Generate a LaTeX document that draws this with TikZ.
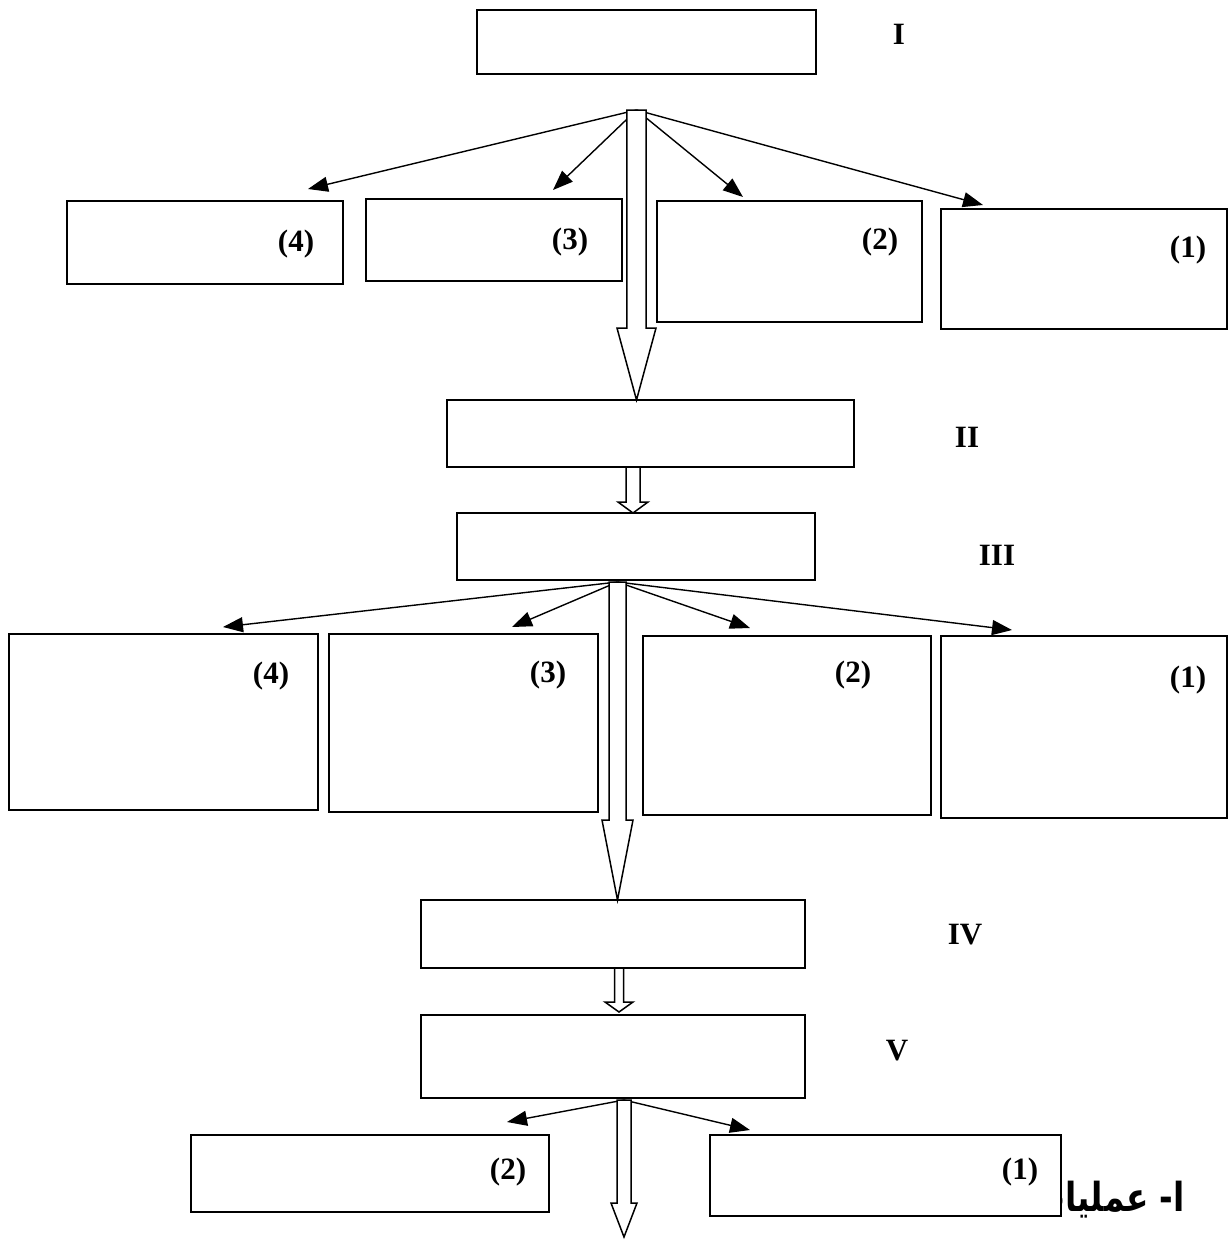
\documentclass[tikz,border=0pt]{standalone}
\usepackage{fontspec}
\setmainfont{Liberation Serif}
\newfontfamily\arabicfont[Script=Arabic]{DejaVu Sans}
\TeXXeTstate=1
\usepackage{tikz}
\usetikzlibrary{arrows.meta, fit, calc}
\tikzstyle{box} = [rectangle, draw, line width=1.5pt, fill=white, inner sep=0pt, outer sep=0pt]
\tikzstyle{lbl} = [font=\fontsize{31}{32}\selectfont\bfseries, inner sep=0pt]
\tikzstyle{arrow} = [line width=1.4pt, -{Triangle[length=20pt,width=15pt]}]
\tikzstyle{hollow} = [draw, line width=1.5pt, fill=white]
% hollow down arrow: top, tip, half shaft, half head, head length
\newcommand{\hollowdown}[5]{%
  \path[hollow] let \p1=(#1), \p2=(#2) in
    (\x1-#3pt,\y1) -- (\x1+#3pt,\y1) -- (\x1+#3pt,\y2+#5pt) -- (\x1+#4pt,\y2+#5pt)
    -- (\x1,\y2) -- (\x1-#4pt,\y2+#5pt) -- (\x1-#3pt,\y2+#5pt) -- cycle;}

\begin{document}
\begin{tikzpicture}[x=1pt, y=-1pt]
    \useasboundingbox (0,0) rectangle (1229,1240);

    % Title text, partly hidden by the box (1) below
    \node[anchor=base east, inner sep=0pt, xscale=0.82, transform shape, font=\arabicfont\fontsize{40}{42}\selectfont\bfseries] (title) at (1185,1211) {\beginR ا- عمليات\endR};

    % Nodes
    \node (boxI) [box, fit={(477,10) (816,74)}] {};
    \node (lI) [lbl] at (899,34) {I};
    \node (a4) [box, fit={(67,201) (343,284)}] {};
    \node (a3) [box, fit={(366,199) (622,281)}] {};
    \node (a2) [box, fit={(657,201) (922,322)}] {};
    \node (a1) [box, fit={(941,209) (1227,329)}] {};
    \node (la4) [lbl] at (296,244) {(4)};
    \node (la3) [lbl] at (570,242) {(3)};
    \node (la2) [lbl] at (880,242) {(2)};
    \node (la1) [lbl] at (1188,250) {(1)};

    \node (boxII) [box, fit={(447,400) (854,467)}] {};
    \node (lII) [lbl] at (967,437) {II};
    \node (boxIII) [box, fit={(457,513) (815,580)}] {};
    \node (lIII) [lbl] at (997,555) {III};

    \node (b4) [box, fit={(9,634) (318,810)}] {};
    \node (b3) [box, fit={(329,634) (598,812)}] {};
    \node (b2) [box, fit={(643,636) (931,815)}] {};
    \node (b1) [box, fit={(941,636) (1227,818)}] {};
    \node (lb4) [lbl] at (271,676) {(4)};
    \node (lb3) [lbl] at (548,675) {(3)};
    \node (lb2) [lbl] at (853,675) {(2)};
    \node (lb1) [lbl] at (1188,680) {(1)};

    \node (boxIV) [box, fit={(421,900) (805,968)}] {};
    \node (lIV) [lbl] at (965,935) {IV};
    \node (boxV) [box, fit={(421,1015) (805,1098)}] {};
    \node (lV) [lbl] at (897,1051) {V};

    \node (c2) [box, fit={(191,1135) (549,1212)}] {};
    \node (c1) [box, fit={(710,1135) (1061,1216)}] {};
    \node (lc2) [lbl] at (508,1172) {(2)};
    \node (lc1) [lbl] at (1020,1172) {(1)};

    % Hubs and arrow ends
    \coordinate (hubI) at (636.5,110);
    \coordinate (hubIII) at (617.5,582);
    \coordinate (hubV) at (624,1100);
    \coordinate (ea4) at (308,189);
    \coordinate (ea3) at (553,190);
    \coordinate (ea2) at (743,197);
    \coordinate (ea1) at (983,205);
    \coordinate (eb4) at (223,627);
    \coordinate (eb3) at (512,627);
    \coordinate (eb2) at (750,628);
    \coordinate (eb1) at (1012,630);
    \coordinate (ec2) at (507,1122);
    \coordinate (ec1) at (750,1130);

    % Arrows
    \foreach \e in {ea4, ea3, ea2, ea1}
        \draw [arrow] (hubI) -- (\e);
    \foreach \e in {eb4, eb3, eb2, eb1}
        \draw [arrow] (hubIII) -- (\e);
    \foreach \e in {ec2, ec1}
        \draw [arrow] (hubV) -- (\e);

    \hollowdown{hubI}{hubI |- boxII.north}{9.7}{19.5}{72}
    \hollowdown{633,467}{633,513}{7}{15}{11}
    \hollowdown{hubIII}{hubIII |- boxIV.north}{8.5}{15.5}{80}
    \hollowdown{619,968}{619,1012}{4.5}{14}{10}
    \hollowdown{hubV}{624,1237}{7}{13}{34}

\end{tikzpicture}
\end{document}
